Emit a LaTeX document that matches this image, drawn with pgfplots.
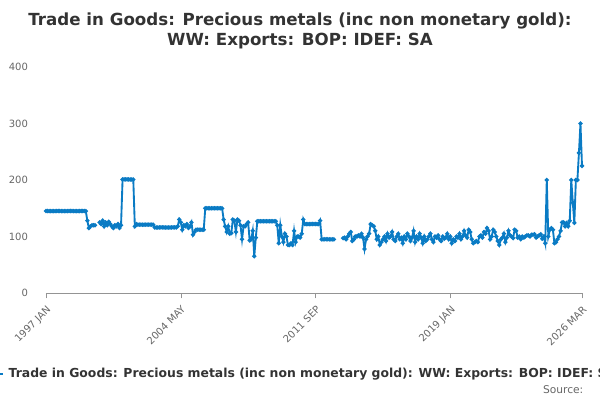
\documentclass[border=0pt]{standalone}
\usepackage{pgfplots}
\pgfplotsset{compat=1.18}
\usepackage{fontspec}
\setmainfont{DejaVu Sans}
\definecolor{ln}{HTML}{0A7BC4}
\definecolor{tx}{HTML}{333333}
\definecolor{tk}{HTML}{666666}
\begin{document}
\begin{tikzpicture}
\clip (0,0) rectangle (450pt,300pt);
\path[use as bounding box] (0,0) rectangle (450pt,300pt);
\begin{axis}[at={(34.5pt,80.25pt)},anchor=south west,scale only axis,
 width=402pt,height=169.5pt,xmin=0,xmax=350,ymin=0,ymax=400,
 axis x line*=bottom, axis y line=none, x axis line style={tk!70},
 ytick={0,100,200,300,400}, yticklabels={}, ymajorgrids, grid style={gray!25},
 xtick={0,88,176,264,350}, xticklabels={1997 JAN,2004 MAY,2011 SEP,2019 JAN,2026 MAR},
 x tick label style={rotate=45,anchor=north east,font=\fontsize{7.5}{9}\selectfont,text=tk},
 major tick length=4pt, xtick style={tk!70}, tick align=outside,
 unbounded coords=jump, clip=false,
 /pgf/number format/assume math mode=true]
\addplot[ln,line width=1.4pt,mark=*,mark size=0.8pt] table[x=m,y=v]{
m v
0 145
1 145
2 145
3 145
4 145
5 145
6 145
7 145
8 145
9 145
10 145
11 145
12 145
13 145
14 145
15 145
16 145
17 145
18 145
19 145
20 145
21 145
22 145
23 145
24 145
25 145
26 145
27 128
28 115
29 118
30 120
31 120
32 120
33 nan
35 125
36 122
37 128
38 118
39 125
40 120
41 126
42 122
43 118
44 115
45 120
46 118
47 122
48 115
49 120
50 201
51 201
52 201
53 201
54 201
55 201
56 201
57 201
58 118
59 122
60 121
61 121
62 121
63 121
64 121
65 121
66 121
67 121
68 121
69 121
70 121
71 116
72 116
73 116
74 116
75 116
76 116
77 116
78 116
79 116
80 116
81 116
82 116
83 116
84 116
85 116
86 118
87 130
88 125
89 112
90 120
91 118
92 122
93 115
94 118
95 125
96 103
97 108
98 112
99 112
100 112
101 112
102 112
103 112
104 150
105 150
106 150
107 150
108 150
109 150
110 150
111 150
112 150
113 150
114 150
115 150
116 130
117 118
118 108
119 118
120 105
121 106
122 130
123 128
124 108
125 130
126 128
127 120
128 95
129 118
130 118
131 122
132 125
133 93
134 95
135 110
136 65
137 98
138 127
139 127
140 127
141 127
142 127
143 127
144 127
145 127
146 127
147 127
148 127
149 127
150 127
151 120
152 88
153 120
154 100
155 90
156 105
157 100
158 85
159 85
160 88
161 85
162 110
163 90
164 100
165 100
166 98
167 105
168 130
169 122
170 122
171 122
172 122
173 122
174 122
175 122
176 122
177 122
178 122
179 128
180 95
181 95
182 95
183 95
184 95
185 95
186 95
187 95
188 95
189 nan
194 97
195 98
196 95
197 100
198 105
199 108
200 92
201 95
202 100
203 100
204 102
205 100
206 105
207 98
208 78
209 95
210 100
211 105
212 122
213 120
214 118
215 110
216 95
217 100
218 85
219 90
220 95
221 100
222 92
223 105
224 98
225 100
226 108
227 95
228 92
229 100
230 105
231 95
232 98
233 88
234 100
235 95
236 105
237 100
238 92
239 98
240 110
241 90
242 100
243 95
244 105
245 98
246 88
247 100
248 92
249 95
250 100
251 105
252 95
253 90
254 100
255 98
256 102
257 95
258 92
259 100
260 96
261 98
262 105
263 95
264 100
265 88
266 95
267 92
268 100
269 98
270 105
271 95
272 100
273 110
274 102
275 98
276 112
277 108
278 95
279 88
280 90
281 92
282 90
283 100
284 102
285 98
286 108
287 105
288 115
289 110
290 95
291 100
292 112
293 108
294 100
295 92
296 85
297 95
298 98
299 105
300 90
301 98
302 110
303 102
304 100
305 97
306 112
307 110
308 98
309 100
310 95
311 100
312 98
313 100
314 102
315 102
316 100
317 103
318 103
319 104
320 98
321 100
322 102
323 104
324 96
325 100
326 88
327 200
328 100
329 112
330 115
331 112
332 88
333 90
334 95
335 100
336 110
337 125
338 125
339 118
340 124
341 118
342 128
343 200
344 160
345 124
346 200
347 200
348 248
349 300
350 225
};
\end{axis}
\foreach \v/\y in {0/293,100/236.5,200/180,300/123.5,400/67}
 \node[anchor=east,text=tk,font=\fontsize{7.5}{9}\selectfont] at (24.5pt,{(400-\y)*0.75pt}) {\v};
\node[text=tx,font=\bfseries\fontsize{12.5}{15}\selectfont,align=center] at (225pt,277pt)
 {Trade in Goods: Precious metals (inc non monetary gold):\\WW: Exports: BOP: IDEF: SA};
\draw[ln,line width=1.4pt] (-3pt,19.5pt) -- (2pt,19.5pt);
\node[anchor=west,text=tx,font=\bfseries\fontsize{9.3}{11}\selectfont] at (3pt,19.5pt)
 {Trade in Goods: Precious metals (inc non monetary gold): WW: Exports: BOP: IDEF: SA};
\node[anchor=east,text=tk,font=\fontsize{8}{10}\selectfont] at (441pt,7.5pt) {Source:};
\end{tikzpicture}
\end{document}
